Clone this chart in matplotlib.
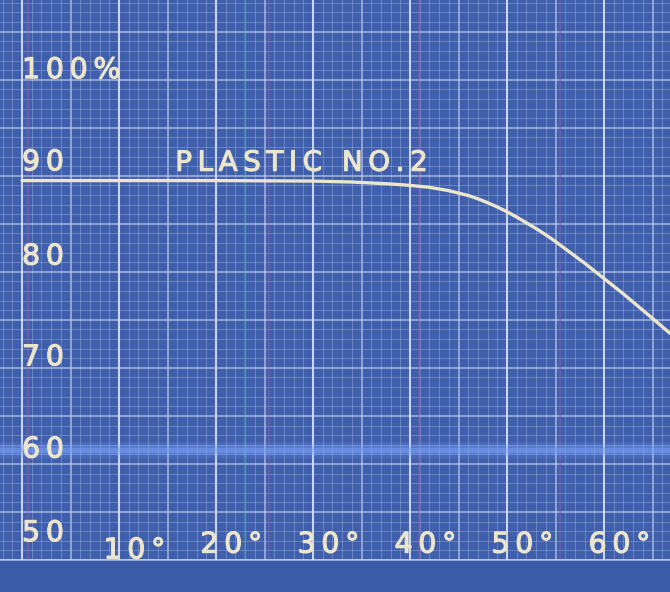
import numpy as np
import matplotlib
matplotlib.use("Agg")
import matplotlib.pyplot as plt
import matplotlib.patheffects as pe
from matplotlib.ticker import MultipleLocator

# Transmission (%) of "Plastic No. 2" against angle of incidence (degrees)
angle_deg = [0, 10, 20, 30, 34, 38, 40, 42, 44, 46, 47, 48, 49, 50, 51, 52,
             53, 54, 55, 56, 57, 58, 59, 60, 61, 62, 63, 64, 65, 66.8]
transmission = [89.5, 89.5, 89.5, 89.45, 89.35, 89.15, 89.0, 88.8, 88.45, 87.95,
                87.6, 87.2, 86.75, 86.25, 85.7, 85.1, 84.5, 83.85, 83.15, 82.4,
                81.65, 80.9, 80.1, 79.3, 78.5, 77.7, 76.85, 76.0, 75.15, 73.6]

x_ticks = [10, 20, 30, 40, 50, 60]
x_tick_labels = ["10°", "20°", "30°", "40°", "50°", "60°"]
y_ticks = [100, 90, 80, 70, 60, 50]
y_tick_labels = ["100%", "90", "80", "70", "60", "50"]
series_label = "PLASTIC NO.2"

paper = "#3f5eab"
ink = "#ece6cc"
grid_minor = "#a9bce6"
grid_major = "#d4def4"
THIN = "\u2009"


def spaced(s):
    # open up the letter spacing like stencil lettering
    return THIN.join(s)


fig = plt.figure(figsize=(6.7, 5.92), dpi=100, facecolor="#3b5aa8")
ax = fig.add_axes([0, 32 / 592, 1, 560 / 592])
ax.set_facecolor(paper)
ax.set_xlim(-2.27, 66.8)
ax.set_ylim(50.0, 108.3)

# graph-paper ruling
ax.xaxis.set_minor_locator(MultipleLocator(1))
ax.xaxis.set_major_locator(MultipleLocator(5))
ax.yaxis.set_minor_locator(MultipleLocator(1))
ax.yaxis.set_major_locator(MultipleLocator(5))
ax.grid(which="minor", color=grid_minor, lw=0.7, alpha=0.4)
ax.grid(which="major", color=grid_major, lw=1.1, alpha=0.7)
for xv in range(0, 70, 10):
    ax.axvline(xv, color=grid_major, lw=1.5, alpha=0.85, zorder=1)
ax.tick_params(which="both", length=0, labelbottom=False, labelleft=False)
for s in ax.spines.values():
    s.set_visible(False)
ax.set_axisbelow(True)

# faint coloured streaks in the print
for xv, c in [(0.6, "#a060b0"), (23.0, "#50a8b0"), (40.9, "#a060b0"),
              (25.5, "#9060b0"), (55.5, "#9060b0")]:
    ax.axvline(xv, color=c, lw=1.6, alpha=0.4, zorder=1)
fig.add_artist(plt.Line2D([0.0, 1.0], [32 / 592] * 2, color=grid_major,
                          lw=1.2, alpha=0.7))

# bright blue band across the sheet
for w, a in [(12, 0.16), (7, 0.28), (3.5, 0.42)]:
    ax.axhline(61.5, color="#80a8ff", lw=w, alpha=a, zorder=2)

thick = [pe.withStroke(linewidth=0.8, foreground=ink)]

# curve
ax.plot(angle_deg, transmission, color=ink, lw=2.4, solid_capstyle="round",
        zorder=5)
ax.text(15.8, 89.9, spaced(series_label), color=ink, fontsize=20,
        fontfamily="DejaVu Sans", ha="left", va="bottom", zorder=6,
        path_effects=thick)

# hand-lettered scale values
y_label_pos = {100: 101.0, 90: 91.4, 80: 81.6, 70: 71.1, 60: 61.5, 50: 52.8}
for yv, lab in zip(y_ticks, y_tick_labels):
    ax.text(0.0, y_label_pos[yv], spaced(lab), color=ink, fontsize=20.5,
            fontfamily="DejaVu Sans", ha="left", va="center", zorder=6,
            path_effects=thick)
for xv, lab in zip(x_ticks, x_tick_labels):
    ypos = 51.0 if xv == 10 else 51.6
    ax.text(xv + 1.6, ypos, spaced(lab), color=ink, fontsize=20.5,
            fontfamily="DejaVu Sans", ha="center", va="center", zorder=6,
            path_effects=thick)

fig.savefig("out.png", dpi=100, facecolor=fig.get_facecolor())
